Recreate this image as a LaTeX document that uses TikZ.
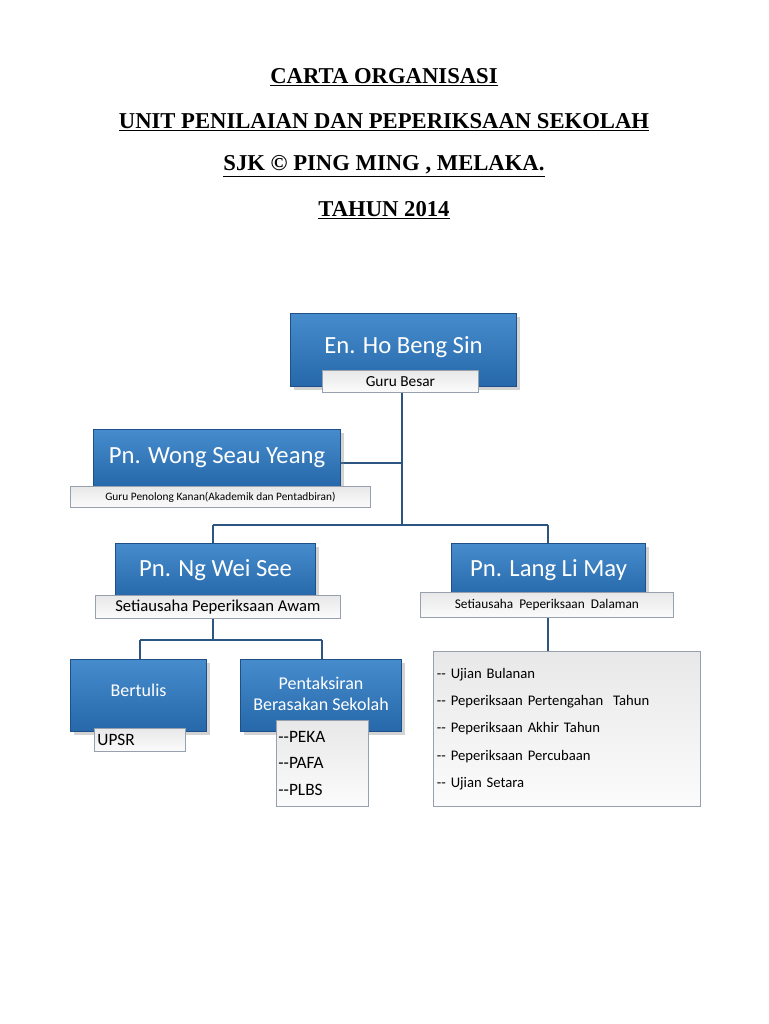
\documentclass[tikz,border=0pt]{standalone}
\usepackage{fontspec}
\setmainfont{Liberation Serif}
\newfontfamily\calib{Carlito}
\usetikzlibrary{shadows}
\definecolor{boxblue}{RGB}{38,104,170}
\definecolor{boxtop}{RGB}{70,140,205}
\definecolor{boxedge}{RGB}{30,80,135}
\definecolor{linkblue}{RGB}{45,85,130}
\definecolor{tagfill}{RGB}{232,232,232}
\definecolor{tagedge}{RGB}{150,160,175}

\begin{document}
\begin{tikzpicture}[x=0.75pt,y=-0.75pt,line width=1.6pt,draw=linkblue]
    \tikzstyle{person} = [rectangle, draw=boxedge, line width=0.8pt, top color=boxtop, bottom color=boxblue, text=white, font=\calib\fontsize{18.5}{21}\selectfont, drop shadow={opacity=0.35}, inner sep=0pt, align=center]
    \tikzstyle{tag} = [rectangle, draw=tagedge, line width=0.6pt, top color=tagfill, bottom color=white!85!tagfill, text=black, font=\calib\fontsize{11.5}{13}\selectfont, inner sep=0pt]
    \tikzstyle{title} = [font=\bfseries\fontsize{17}{20}\selectfont]
    \useasboundingbox (0,0) rectangle (768,1024);

    %%% TITLE
    \node[title] (t1) at (384,77) {\underline{CARTA ORGANISASI}};
    \node[title] (t2) at (384,122) {\underline{UNIT PENILAIAN DAN PEPERIKSAAN SEKOLAH}};
    \node[title] (t3) at (384,166) {\underline{SJK \textcopyright\ PING MING , MELAKA.}};
    \node[title] (t4) at (384,210) {\underline{TAHUN 2014}};

    %%% PATHS
    \coordinate (J-1) at (402,463);
    \coordinate (J-2) at (402,525);
    \coordinate (J-3) at (213,525);
    \coordinate (J-4) at (548,525);
    \coordinate (J-5) at (213,640);
    \coordinate (J-6) at (140,640);
    \coordinate (J-7) at (322,640);
    \draw (402,392) -- (J-2);
    \draw (J-1) -- (340,463);
    \draw (J-3) -- (J-4);
    \draw (J-3) -- (213,543);
    \draw (J-4) -- (548,543);
    \draw (213,618) -- (J-5);
    \draw (J-6) -- (J-7);
    \draw (J-6) -- (140,659);
    \draw (J-7) -- (322,659);
    \draw (548,617) -- (548,651);

    %%% BOXES
    \node[person, minimum width=226*0.75pt, minimum height=73*0.75pt, anchor=north west] (head) at (290,313) {\raisebox{8pt}{En. Ho Beng Sin}};
    \node[tag, minimum width=156*0.75pt, minimum height=22*0.75pt, anchor=north west] (head-t) at (322,370) {Guru Besar};

    \node[person, minimum width=247*0.75pt, minimum height=57*0.75pt, anchor=north west] (wong) at (93,429) {Pn. Wong Seau Yeang};
    \node[tag, minimum width=300*0.75pt, minimum height=21*0.75pt, anchor=north west, font=\calib\fontsize{8.5}{10}\selectfont] (wong-t) at (70,486) {Guru Penolong Kanan(Akademik dan Pentadbiran)};

    \node[person, minimum width=200*0.75pt, minimum height=54*0.75pt, anchor=north west] (ng) at (115,543) {Pn. Ng Wei See};
    \node[tag, minimum width=245*0.75pt, minimum height=23*0.75pt, anchor=north west, font=\calib\fontsize{12.5}{14}\selectfont] (ng-t) at (95,595) {Setiausaha Peperiksaan Awam};

    \node[person, minimum width=194*0.75pt, minimum height=54*0.75pt, anchor=north west] (lang) at (451,543) {Pn. Lang Li May};
    \node[tag, minimum width=253*0.75pt, minimum height=25*0.75pt, anchor=north west, font=\calib\fontsize{10}{12}\selectfont] (lang-t) at (420,592) {Setiausaha\ \ Peperiksaan\ \ Dalaman};

    \node[person, minimum width=136*0.75pt, minimum height=72*0.75pt, anchor=north west, font=\calib\fontsize{13.5}{16}\selectfont] (tulis) at (70,659) {\raisebox{8pt}{Bertulis}};
    \node[tag, minimum width=91*0.75pt, minimum height=23*0.75pt, anchor=north west, font=\calib\fontsize{13}{15}\selectfont, text width=85*0.75pt] (tulis-t) at (94,728) {UPSR};

    \node[person, minimum width=161*0.75pt, minimum height=72*0.75pt, anchor=north west, font=\calib\fontsize{13.5}{16}\selectfont] (pbs) at (240,659) {\raisebox{8pt}{\begin{tabular}{@{}c@{}}Pentaksiran\\Berasakan Sekolah\end{tabular}}};
    \node[tag, minimum width=92*0.75pt, minimum height=86*0.75pt, anchor=north west, font=\calib\fontsize{13}{15}\selectfont, align=left, text width=88*0.75pt] (pbs-t) at (276,720) {--PEKA\\[5pt]--PAFA\\[5pt]--PLBS};

    \node[tag, minimum width=267*0.75pt, minimum height=155*0.75pt, anchor=north west, align=left, text width=260*0.75pt, font=\calib\fontsize{11}{13}\selectfont] (ujian) at (433,651) {-- Ujian Bulanan\\[7.5pt]-- Peperiksaan Pertengahan\ \ Tahun\\[7.5pt]-- Peperiksaan Akhir Tahun\\[7.5pt]-- Peperiksaan Percubaan\\[7.5pt]-- Ujian Setara\\[44pt]};
\end{tikzpicture}
\end{document}
